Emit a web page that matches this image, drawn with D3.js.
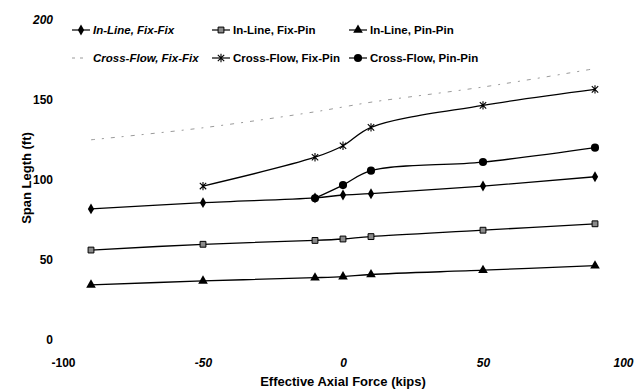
<!DOCTYPE html>
<html>
<head>
<meta charset="utf-8">
<script src="https://cdn.jsdelivr.net/npm/d3@7"></script>
<style>
  body { margin: 0; background: #fff; }
  text { font-family: "Liberation Sans", Arial, sans-serif; fill: #000; }
</style>
</head>
<body>
<div id="chart"></div>
<script>
var width = 634;
var height = 390;

// data
var forces = [-90, -50, -10, 0, 10, 50, 90];
var inlineFixFix = [81.3, 85.2, 88.2, 90, 90.8, 95.6, 101.4];
var inlineFixPin = [55.6, 59.2, 61.6, 62.5, 64, 68, 72];
var inlinePinPin = [33.8, 36.3, 38.3, 39, 40.3, 43, 45.8];
var crossFixFix = [124.5, 132, 142, 145, 148, 157.5, 169];
var crossFixPin = [null, 95.6, 113.6, 120.8, 132.3, 146, 156];
var crossPinPin = [null, null, 88, 96.2, 105.2, 110.6, 119.6];
var xTicks = [-100, -50, 0, 50, 100];
var yTicks = [0, 50, 100, 150, 200];

var series = [
  { name: "In-Line, Fix-Fix", values: inlineFixFix, marker: "diamond", italic: true },
  { name: "In-Line, Fix-Pin", values: inlineFixPin, marker: "square", italic: false },
  { name: "In-Line, Pin-Pin", values: inlinePinPin, marker: "triangle", italic: false },
  { name: "Cross-Flow, Fix-Fix", values: crossFixFix, marker: "none", italic: true },
  { name: "Cross-Flow, Fix-Pin", values: crossFixPin, marker: "star", italic: false },
  { name: "Cross-Flow, Pin-Pin", values: crossPinPin, marker: "circle", italic: false }
];

var svg = d3.select("#chart")
  .append("svg")
  .attr("width", width)
  .attr("height", height);

var xScale = d3.scaleLinear().domain([-100, 100]).range([63, 623]);
var yScale = d3.scaleLinear().domain([0, 200]).range([339, 19]);

// tick labels only, the scan shows no axis lines
var xAxis = d3.axisBottom(xScale).tickValues(xTicks).tickSize(0).tickPadding(0)
  .tickFormat(d => String(d));
var gx = svg.append("g")
  .attr("transform", "translate(0,358)")
  .call(xAxis);
gx.select(".domain").remove();
gx.selectAll("text")
  .attr("font-size", 12)
  .attr("font-weight", "bold")
  .attr("font-style", d => d === -100 ? "normal" : "italic")
  .attr("font-family", "Liberation Sans, Arial, sans-serif");

var yAxis = d3.axisLeft(yScale).tickValues(yTicks).tickSize(0).tickPadding(0)
  .tickFormat(d => String(d));
var gy = svg.append("g")
  .attr("transform", "translate(53,1)")
  .call(yAxis);
gy.select(".domain").remove();
gy.selectAll("text")
  .attr("font-size", 12)
  .attr("font-weight", "bold")
  .attr("font-style", d => d === 200 ? "italic" : "normal")
  .attr("font-family", "Liberation Sans, Arial, sans-serif");

svg.append("text")
  .text("Effective Axial Force (kips)")
  .attr("x", 343)
  .attr("y", 386)
  .attr("text-anchor", "middle")
  .attr("font-size", 13)
  .attr("font-weight", "bold");

svg.append("text")
  .text("Span Legth (ft)")
  .attr("transform", "translate(31,178) rotate(-90)")
  .attr("text-anchor", "middle")
  .attr("font-size", 13)
  .attr("font-weight", "bold");

function starPath(s) {
  return "M" + (-s) + "," + (-s) + "L" + s + "," + s +
    "M" + (-s) + "," + s + "L" + s + "," + (-s) +
    "M0," + (-s * 1.3) + "L0," + (s * 1.3);
}

function drawMarker(g, type, x, y) {
  if (type === "diamond") {
    g.append("path").attr("d", d3.symbol(d3.symbolDiamond, 34)())
      .attr("transform", `translate(${x},${y})`).attr("fill", "#000");
  } else if (type === "square") {
    g.append("path").attr("d", d3.symbol(d3.symbolSquare, 34)())
      .attr("transform", `translate(${x},${y})`)
      .attr("fill", "#8a8a8a").attr("stroke", "#000").attr("stroke-width", 1);
  } else if (type === "triangle") {
    g.append("path").attr("d", d3.symbol(d3.symbolTriangle, 40)())
      .attr("transform", `translate(${x},${y})`).attr("fill", "#000");
  } else if (type === "circle") {
    g.append("path").attr("d", d3.symbol(d3.symbolCircle, 52)())
      .attr("transform", `translate(${x},${y})`).attr("fill", "#000");
  } else if (type === "star") {
    g.append("path").attr("d", starPath(3.2))
      .attr("transform", `translate(${x},${y})`)
      .attr("stroke", "#000").attr("stroke-width", 1.1).attr("fill", "none");
  }
}

var line = d3.line()
  .x(d => xScale(d.x))
  .y(d => yScale(d.y))
  .curve(d3.curveCatmullRom.alpha(0.5));

var plot = svg.append("g");

series.forEach(function(s) {
  var pts = forces.map((f, i) => ({ x: f, y: s.values[i] })).filter(d => d.y != null);
  var path = plot.append("path")
    .datum(pts)
    .attr("d", line)
    .attr("fill", "none");
  if (s.marker === "none") {
    path.attr("stroke", "#9a9a9a")
      .attr("stroke-width", 1)
      .attr("stroke-dasharray", "4,7,2,7");
  } else {
    path.attr("stroke", "#000").attr("stroke-width", 1.3);
    pts.forEach(d => drawMarker(plot, s.marker, xScale(d.x), yScale(d.y)));
  }
});

// legend: 3 columns, 2 rows
var legendCols = [81, 221, 358];
var legendRows = [30, 58];
var legend = svg.append("g");
series.forEach(function(s, i) {
  var cx = legendCols[i % 3];
  var cy = legendRows[Math.floor(i / 3)];
  if (s.marker === "none") {
    legend.append("line")
      .attr("x1", cx - 9).attr("x2", cx + 2)
      .attr("y1", cy).attr("y2", cy)
      .attr("stroke", "#9a9a9a").attr("stroke-width", 1)
      .attr("stroke-dasharray", "3,5");
  } else {
    legend.append("line")
      .attr("x1", cx - 9).attr("x2", cx + 9)
      .attr("y1", cy).attr("y2", cy)
      .attr("stroke", "#000").attr("stroke-width", 1.2);
    drawMarker(legend, s.marker, cx, cy);
  }
  legend.append("text")
    .text(s.name)
    .attr("x", cx + 12)
    .attr("y", cy + 4)
    .attr("font-size", 11.5)
    .attr("font-weight", "bold")
    .attr("font-style", s.italic ? "italic" : "normal");
});
</script>
</body>
</html>
